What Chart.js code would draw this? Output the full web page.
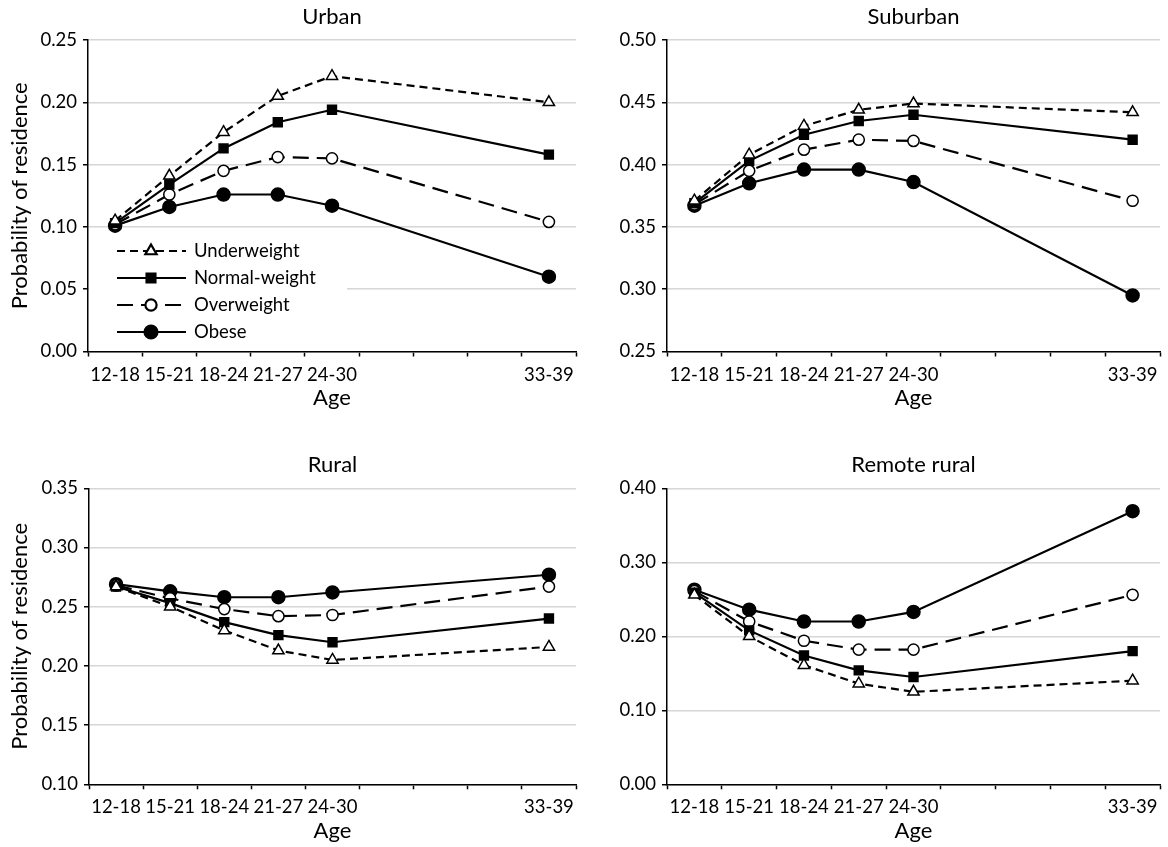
<!DOCTYPE html>
<html>
<head>
<meta charset="utf-8">
<script src="https://cdn.jsdelivr.net/npm/chart.js@4.4.1/dist/chart.umd.min.js"></script>
<style>
  body { margin: 0; background: #fff; width: 1168px; height: 847px; position: relative; overflow: hidden; }
  canvas { position: absolute; }
</style>
</head>
<body>
<canvas id="urban" width="584" height="420" style="left:0;top:0"></canvas>
<canvas id="suburban" width="584" height="420" style="left:584px;top:0"></canvas>
<canvas id="rural" width="584" height="407" style="left:0;top:440px"></canvas>
<canvas id="remote" width="584" height="407" style="left:584px;top:440px"></canvas>
<script>
// age groups (three empty slots keep the gap before 33-39)
const ageLabels = ['12-18', '15-21', '18-24', '21-27', '24-30', '', '', '', '33-39'];
const seriesNames = ['Underweight', 'Normal-weight', 'Overweight', 'Obese'];

// values at 12-18, 15-21, 18-24, 21-27, 24-30, 33-39
const urbanUnder  = [0.105, 0.141, 0.176, 0.205, 0.221, 0.200];
const urbanNormal = [0.103, 0.134, 0.163, 0.184, 0.194, 0.158];
const urbanOver   = [0.102, 0.126, 0.145, 0.156, 0.155, 0.104];
const urbanObese  = [0.101, 0.116, 0.126, 0.126, 0.117, 0.060];

const suburbanUnder  = [0.371, 0.408, 0.431, 0.444, 0.449, 0.442];
const suburbanNormal = [0.369, 0.403, 0.424, 0.435, 0.440, 0.420];
const suburbanOver   = [0.368, 0.395, 0.412, 0.420, 0.419, 0.371];
const suburbanObese  = [0.367, 0.385, 0.396, 0.396, 0.386, 0.295];

const ruralUnder  = [0.267, 0.250, 0.230, 0.213, 0.205, 0.216];
const ruralNormal = [0.267, 0.253, 0.237, 0.226, 0.220, 0.240];
const ruralOver   = [0.268, 0.257, 0.248, 0.242, 0.243, 0.267];
const ruralObese  = [0.269, 0.263, 0.258, 0.258, 0.262, 0.277];

const remoteUnder  = [0.256, 0.200, 0.161, 0.136, 0.125, 0.140];
const remoteNormal = [0.259, 0.208, 0.174, 0.154, 0.145, 0.180];
const remoteOver   = [0.261, 0.220, 0.194, 0.182, 0.182, 0.256];
const remoteObese  = [0.263, 0.236, 0.220, 0.220, 0.233, 0.369];

const FONT = 'Lato';

const seriesStyle = [
  { dash: [8, 5],  pointStyle: 'triangle', radius: 6.5, fill: '#fff' },
  { dash: [],      pointStyle: 'rect',     radius: 6.3, fill: '#000' },
  { dash: [16, 8], pointStyle: 'circle',   radius: 5.6, fill: '#fff' },
  { dash: [],      pointStyle: 'circle',   radius: 6.5, fill: '#000' }
];

function spread(v) {
  return [v[0], v[1], v[2], v[3], v[4], null, null, null, v[5]];
}

// title centred over the plot area, like the original
const panelTitle = {
  id: 'panelTitle',
  afterDraw(chart, args, o) {
    const { ctx, chartArea } = chart;
    ctx.save();
    ctx.font = '22px ' + FONT;
    ctx.fillStyle = '#000';
    ctx.textAlign = 'center';
    ctx.textBaseline = 'middle';
    ctx.fillText(o.text, (chartArea.left + chartArea.right) / 2, o.y);
    ctx.restore();
  }
};

// legend box sitting inside the urban plot
const insideLegend = {
  id: 'insideLegend',
  afterDraw(chart, args, o) {
    if (!o.show) return;
    const ctx = chart.ctx;
    ctx.save();
    ctx.fillStyle = '#fff';
    ctx.fillRect(chart.chartArea.left + 1, 236, 258, 110);
    chart.data.datasets.forEach((ds, i) => {
      const y = 251 + i * 27;
      ctx.strokeStyle = '#000';
      ctx.lineWidth = 2.2;
      ctx.setLineDash(ds.borderDash);
      ctx.beginPath();
      ctx.moveTo(117, y);
      ctx.lineTo(186, y);
      ctx.stroke();
      ctx.setLineDash([]);
      ctx.fillStyle = ds.pointBackgroundColor;
      ctx.strokeStyle = '#000';
      Chart.helpers.drawPoint(ctx, {
        pointStyle: ds.pointStyle, radius: ds.pointRadius, rotation: 0, borderWidth: 1.5
      }, 151, y);
      ctx.fillStyle = '#000';
      ctx.font = '18.5px ' + FONT;
      ctx.textAlign = 'left';
      ctx.textBaseline = 'middle';
      ctx.fillText(ds.label, 194, y);
    });
    ctx.restore();
  }
};

function makeChart(id, title, series, yMin, yMax, yStep, cfg) {
  const datasets = series.map((vals, i) => {
    const s = seriesStyle[i];
    return {
      label: seriesNames[i],
      data: spread(vals),
      spanGaps: true,
      borderColor: '#000',
      borderWidth: 2.2,
      borderDash: s.dash,
      pointStyle: s.pointStyle,
      pointRadius: s.radius,
      pointBorderWidth: 1.5,
      pointBorderColor: '#000',
      pointBackgroundColor: s.fill,
      tension: 0
    };
  });

  return new Chart(document.getElementById(id), {
    type: 'line',
    data: { labels: ageLabels, datasets: datasets },
    plugins: [panelTitle, insideLegend],
    options: {
      responsive: false,
      animation: false,
      layout: { padding: cfg.padding },
      plugins: {
        legend: { display: false },
        tooltip: { enabled: false },
        panelTitle: { text: title, y: cfg.titleY },
        insideLegend: { show: !!cfg.legend }
      },
      scales: {
        x: {
          type: 'category',
          offset: true,
          afterFit: (scale) => { scale.height = 60; },
          grid: {
            offset: true,
            drawOnChartArea: false,
            drawTicks: true,
            tickLength: 5,
            tickColor: '#000',
            tickWidth: 1.5
          },
          border: { color: '#000', width: 1.5 },
          ticks: {
            autoSkip: false,
            maxRotation: 0,
            padding: 7,
            color: '#000',
            font: { family: FONT, size: 18.5 }
          },
          title: {
            display: true,
            text: 'Age',
            color: '#000',
            padding: 0,
            font: { family: FONT, size: 22 }
          }
        },
        y: {
          min: yMin,
          max: yMax,
          afterFit: (scale) => { scale.width = cfg.yWidth; },
          grid: {
            color: '#d6d6d6',
            lineWidth: 1.5,
            tickLength: 5,
            tickColor: '#000',
            tickWidth: 1.5
          },
          border: { color: '#000', width: 1.5 },
          ticks: {
            stepSize: yStep,
            padding: 6,
            color: '#000',
            font: { family: FONT, size: 18.5 },
            callback: (v) => Number(v).toFixed(2)
          },
          title: {
            display: !!cfg.yTitle,
            text: 'Probability of residence',
            color: '#000',
            padding: 0,
            font: { family: FONT, size: 22 }
          }
        }
      }
    }
  });
}

makeChart('urban', 'Urban',
  [urbanUnder, urbanNormal, urbanOver, urbanObese], 0, 0.25, 0.05,
  { padding: { left: 7, top: 40, right: 0, bottom: 8.5 }, yWidth: 81, yTitle: true, legend: true, titleY: 17 });

makeChart('suburban', 'Suburban',
  [suburbanUnder, suburbanNormal, suburbanOver, suburbanObese], 0.25, 0.5, 0.05,
  { padding: { left: 0, top: 40, right: 5, bottom: 8.5 }, yWidth: 83, yTitle: false, titleY: 17 });

makeChart('rural', 'Rural',
  [ruralUnder, ruralNormal, ruralOver, ruralObese], 0.1, 0.35, 0.05,
  { padding: { left: 7, top: 48.3, right: 2, bottom: 2.7 }, yWidth: 82, yTitle: true, titleY: 25 });

makeChart('remote', 'Remote rural',
  [remoteUnder, remoteNormal, remoteOver, remoteObese], 0, 0.4, 0.1,
  { padding: { left: 0, top: 48.3, right: 6, bottom: 2.7 }, yWidth: 83, yTitle: false, titleY: 25 });
</script>
</body>
</html>
